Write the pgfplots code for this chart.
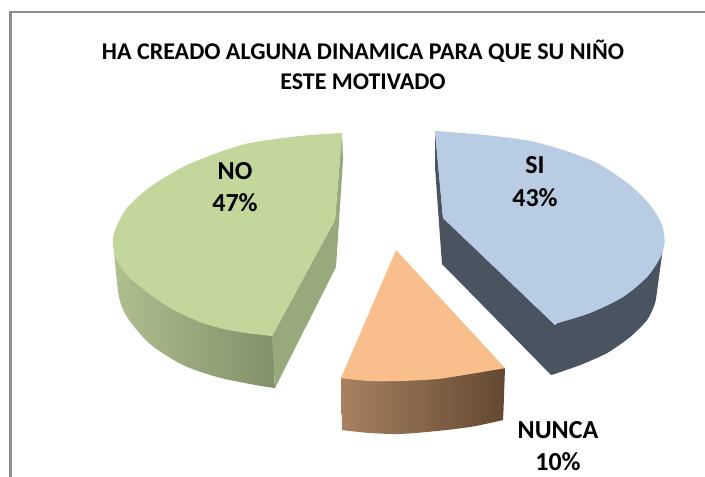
\documentclass[border=0pt]{standalone}
\usepackage{pgfplots}
\pgfplotsset{compat=1.18}
\usepackage{fontspec}
\setmainfont{Carlito}
\definecolor{gtop}{HTML}{C3D69B}
\definecolor{gside}{HTML}{98A97B}
\definecolor{gl}{HTML}{AFBF8F}
\definecolor{gd}{HTML}{7F8E67}
\definecolor{btop}{HTML}{B8CCE4}
\definecolor{bside}{HTML}{4A5460}
\definecolor{otop}{HTML}{F8BF8D}
\definecolor{ol}{HTML}{A88160}
\definecolor{od}{HTML}{634831}
\definecolor{frame}{HTML}{8C8C8C}
\begin{document}
\begin{tikzpicture}
\path[use as bounding box] (0,0) rectangle (705pt,477pt);
\begin{axis}[scale only axis,width=705pt,height=477pt,xmin=0,xmax=705,ymin=0,ymax=477,y dir=reverse,hide axis,clip=true]
% frame
\addplot[draw=frame,line width=2.6pt] coordinates {(10.5,480)(10.5,12)(708,12)};
% NO wall
\addplot[smooth,draw=none,left color=gl,right color=gd] coordinates {(113,240)(114,250)(115,262)(119,297)(127,317)(150,344)(183,365)(217,377)(250,384)(266,386.8)(272,387.6)(275,388)(274.8,385)(274.3,378)(272,336)(200,300)(113,240)};
% NO side
\addplot[draw=none,fill=gside] coordinates {(342,133)(343,160)(338,237)(336,267)(275,388)(272,336)(335,220)};
% NO top
\addplot[smooth,draw=none,fill=gtop] coordinates {(342,133)(300,136)(250,143)(217,153)(183,167)(150,187)(127,208)(115,230)(113,245)(118,263)(133,281)(167,306)(200,322)(233,331)(272,336)};
\addplot[draw=none,fill=gtop] coordinates {(342,133)(250,143)(183,167)(127,208)(113,245)(133,281)(200,322)(272,336)(335,220)};
% SI side
\addplot[smooth,draw=none,fill=bside] coordinates {(551,375)(580,365)(607,353)(630,337)(647,320)(655,303)(658,283)(663,247)(664,238)};
\addplot[draw=none,fill=bside] coordinates {(435,131)(435,167)(440,237)(442,264)(551,375)(580,365)(607,353)(630,337)(647,320)(655,303)(658,283)(664,238)(555,325)(443,218)};
% SI top
\addplot[smooth,draw=none,fill=btop] coordinates {(435,131)(485,135)(530,141)(563,150)(597,163)(630,185)(650,205)(662,225)(664.5,243)(660,258)(647,277)(623,297)(590,313)(554,324)};
\addplot[draw=none,fill=btop] coordinates {(435,131)(530,141)(597,163)(650,205)(664.5,243)(647,277)(590,313)(554,324)(443,218)};
% NUNCA wall
\addplot[smooth,draw=none,left color=ol,right color=od] coordinates {(341,378)(341.5,404)(342,424)(342,428.5)(342,430)(344,430.2)(350,431)(370,433)(400,434)(437,431)(470,427)(490,423)(500,420.7)(503,420)(503.1,418)(503.5,410)(505,368)};
% NUNCA top
\addplot[smooth,draw=none,fill=otop] coordinates {(505,368)(470,374)(437,379)(400,381)(370,381)(341,378)};
\addplot[draw=none,fill=otop] coordinates {(396,250)(505,368)(437,379)(370,381)(341,378)};
\node[font=\bfseries\fontsize{24}{28}\selectfont] at (axis cs:363,51) {HA CREADO ALGUNA DINAMICA PARA QUE SU NIÑO};
\node[font=\bfseries\fontsize{24}{28}\selectfont] at (axis cs:363,82) {ESTE MOTIVADO};
\node[font=\bfseries\fontsize{26}{30}\selectfont] at (axis cs:235,171) {NO};
\node[font=\bfseries\fontsize{26}{30}\selectfont] at (axis cs:235,203) {47\%};
\node[font=\bfseries\fontsize{26}{30}\selectfont] at (axis cs:535,165) {SI};
\node[font=\bfseries\fontsize{26}{30}\selectfont] at (axis cs:535,198) {43\%};
\node[font=\bfseries\fontsize{26}{30}\selectfont] at (axis cs:558,430) {NUNCA};
\node[font=\bfseries\fontsize{26}{30}\selectfont] at (axis cs:558,462) {10\%};
\end{axis}
\end{tikzpicture}
\end{document}
